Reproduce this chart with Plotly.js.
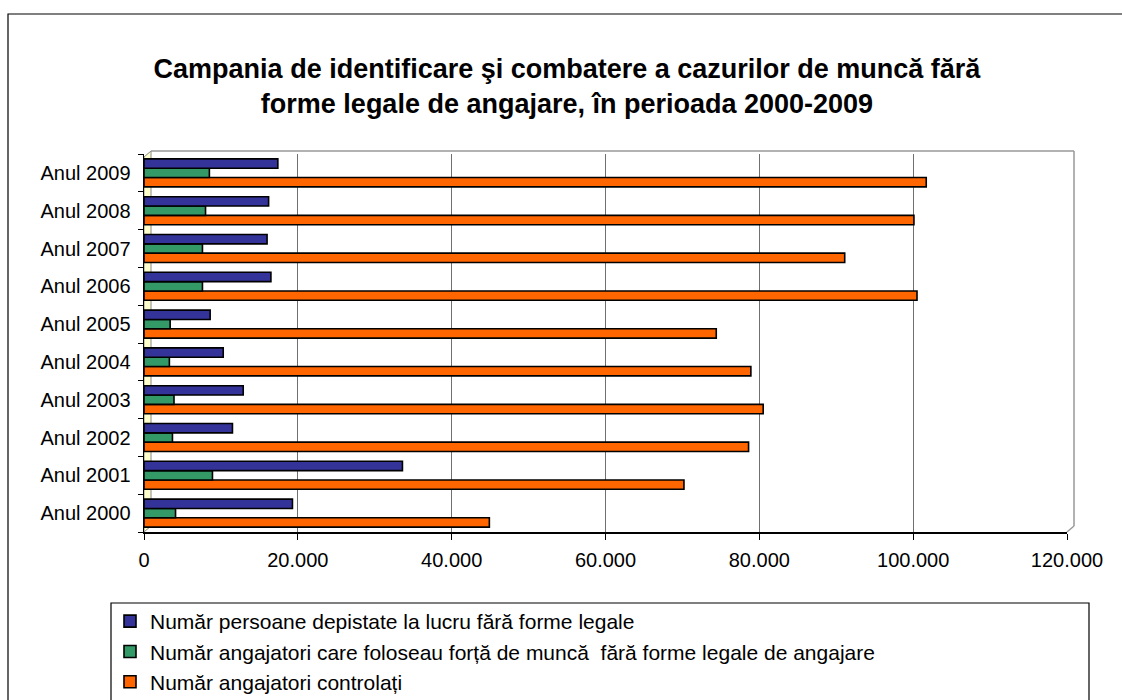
<!DOCTYPE html>
<html>
<head>
<meta charset="utf-8">
<script src="https://cdn.plot.ly/plotly-3.0.1.min.js"></script>
<style>
  html, body { margin: 0; padding: 0; background: #fff; }
  #chart { width: 1122px; height: 700px; }
</style>
</head>
<body>
<div id="chart"></div>
<script>
// ---- data ----
const categories = ["Anul 2000","Anul 2001","Anul 2002","Anul 2003","Anul 2004","Anul 2005","Anul 2006","Anul 2007","Anul 2008","Anul 2009"];
const persoaneDepistate = [19300, 33600, 11500, 12900, 10300, 8600, 16500, 16000, 16200, 17400];
const angajatoriFaraForme = [4100, 8900, 3700, 3900, 3300, 3400, 7600, 7600, 8000, 8500];
const angajatoriControlati = [44900, 70200, 78600, 80500, 78900, 74400, 100500, 91100, 100100, 101700];
const seriesNames = [
  "Număr persoane depistate la lucru fără forme legale",
  "Număr angajatori care foloseau forță de muncă  fără forme legale de angajare",
  "Număr angajatori controlați"
];
const titleText = "Campania de identificare şi combatere a cazurilor de muncă fără<br>forme legale de angajare, în perioada 2000-2009";

// ---- geometry helpers (pixel -> paper) ----
const W = 1122, H = 700;
const L = 144, R = 1067, T = 154, B = 532;
const px = p => (p - L) / (R - L);
const py = p => (B - p) / (B - T);

const fontFam = '"Liberation Sans", Arial, sans-serif';
const lineStyle = {color: '#000', width: 1.6};

const traces = [
  {type: 'bar', orientation: 'h', name: seriesNames[2], y: categories, x: angajatoriControlati,
   marker: {color: '#FF6600', line: lineStyle}, legendgroup: 'c', legendrank: 3},
  {type: 'bar', orientation: 'h', name: seriesNames[1], y: categories, x: angajatoriFaraForme,
   marker: {color: '#339966', line: lineStyle}, legendgroup: 'b', legendrank: 2},
  {type: 'bar', orientation: 'h', name: seriesNames[0], y: categories, x: persoaneDepistate,
   marker: {color: '#333399', line: lineStyle}, legendgroup: 'a', legendrank: 1}
];

const shapes = [
  // outer chart border
  {type: 'rect', xref: 'paper', yref: 'paper', x0: px(8), x1: px(1135), y0: py(14), y1: py(715),
   line: {color: '#000', width: 1.2}, fillcolor: 'rgba(0,0,0,0)', layer: 'below'},
  // legend box
  {type: 'rect', xref: 'paper', yref: 'paper', x0: px(111), x1: px(1089), y0: py(603), y1: py(715),
   line: {color: '#000', width: 1.2}, fillcolor: 'rgba(0,0,0,0)'},
  // back wall top + right edges
  {type: 'line', xref: 'paper', yref: 'paper', x0: px(151), x1: px(1074), y0: py(151), y1: py(151),
   line: {color: '#999', width: 1.5}, layer: 'below'},
  {type: 'line', xref: 'paper', yref: 'paper', x0: px(1074), x1: px(1074), y0: py(151), y1: py(526),
   line: {color: '#999', width: 1.5}, layer: 'below'},
  {type: 'line', xref: 'paper', yref: 'paper', x0: px(1074), x1: px(1067), y0: py(526), y1: py(532),
   line: {color: '#999', width: 1.5}, layer: 'below'},
  // left wall (light yellow)
  {type: 'path', xref: 'paper', yref: 'paper',
   path: `M ${px(144)} ${py(532)} L ${px(151)} ${py(526)} L ${px(151)} ${py(151)} L ${px(144)} ${py(157)} Z`,
   fillcolor: '#FFFFCC', line: {color: '#888', width: 1}, layer: 'below'}
];

const layout = {
  width: W, height: H,
  margin: {l: L, r: W - R, t: T, b: H - B, pad: 0, autoexpand: false},
  paper_bgcolor: '#fff', plot_bgcolor: 'rgba(0,0,0,0)',
  separators: ',.',
  font: {family: fontFam, color: '#000', size: 20},
  title: {text: titleText, x: 567 / W, xanchor: 'center', y: 1 - 78 / H, yanchor: 'middle',
          font: {family: fontFam, size: 27, color: '#000', weight: 'bold'}},
  barmode: 'group', bargap: 0.26, bargroupgap: 0,
  showlegend: true,
  legend: {x: px(110), y: py(601), xanchor: 'left', yanchor: 'top',
           traceorder: 'grouped', tracegroupgap: 0,
           font: {family: fontFam, size: 21, color: '#000'},
           bgcolor: 'rgba(0,0,0,0)', borderwidth: 0, itemwidth: 30},
  xaxis: {range: [0, 120000], tickvals: [0, 20000, 40000, 60000, 80000, 100000, 120000],
          tickformat: ',d', showgrid: true, gridcolor: '#707070', gridwidth: 1,
          zeroline: false, showline: true, linecolor: '#000', linewidth: 1.5,
          ticks: 'outside', ticklen: 6, tickcolor: '#000', ticklabelstandoff: 3,
          tickfont: {family: fontFam, size: 20, color: '#000'}, fixedrange: true},
  yaxis: {type: 'category', categoryorder: 'array', categoryarray: categories,
          showgrid: false, zeroline: false, showline: true, linecolor: '#000', linewidth: 1.5,
          ticks: 'outside', ticklen: 5, tickcolor: '#000', tickson: 'boundaries',
          ticklabelstandoff: 8,
          tickfont: {family: fontFam, size: 20, color: '#000'}, fixedrange: true},
  shapes: shapes
};

Plotly.newPlot('chart', traces, layout, {displayModeBar: false, staticPlot: true});
</script>
</body>
</html>
